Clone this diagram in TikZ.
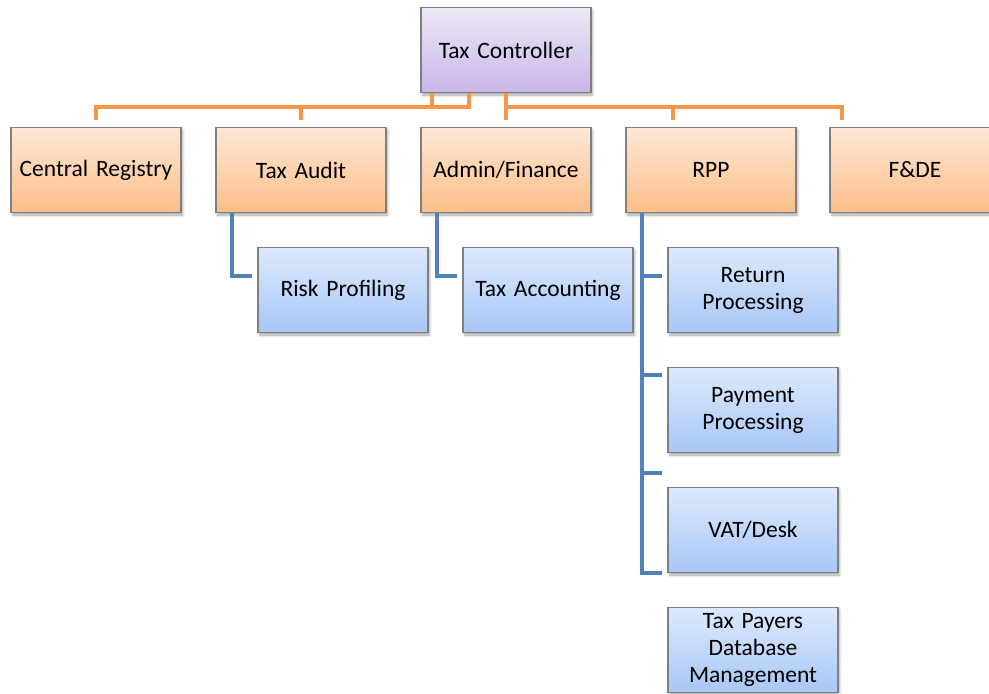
\documentclass[tikz,border=0pt]{standalone}
\usepackage{fontspec}
\setmainfont{Carlito}
\usetikzlibrary{shadows.blur}
\definecolor{orgline}{HTML}{F79646}
\definecolor{blueln}{HTML}{4F81BD}
\definecolor{boxedge}{HTML}{7F7F7F}
\definecolor{orgtop}{HTML}{FEE8D6}
\definecolor{orgbot}{HTML}{FBBE88}
\definecolor{bluetop}{HTML}{DDE9FD}
\definecolor{bluebot}{HTML}{A8C7F7}
\definecolor{purtop}{HTML}{EFE8F7}
\definecolor{purbot}{HTML}{C8B6E8}
\tikzset{
  unitbox/.style={draw=boxedge, line width=1.1pt, minimum width=170pt, minimum height=85pt,
    text width=160pt, align=center, font=\fontsize{23.5}{27}\selectfont, inner sep=0pt,
    blur shadow={shadow xshift=1.5pt, shadow yshift=-2.5pt, shadow blur radius=2.5pt, shadow opacity=35}},
  headbox/.style={unitbox, top color=purtop, bottom color=purbot},
  deptbox/.style={unitbox, top color=orgtop, bottom color=orgbot},
  subbox/.style={unitbox, top color=bluetop, bottom color=bluebot},
  deptlink/.style={draw=orgline, line width=4pt},
  sublink/.style={draw=blueln, line width=4pt}
}
\begin{document}
\begin{tikzpicture}[x=1pt, y=-1pt]
\useasboundingbox (0,0) rectangle (989,694);
\clip (0,0) rectangle (989,694);

% head of the unit
\node[headbox] (tc) at (506,50) {Tax Controller};

% departments
\node[deptbox] (cr)  at (96,170)  {Central Registry};
\node[deptbox] (ta)  at (301,170) {Tax Audit};
\node[deptbox] (af)  at (506,170) {Admin/Finance};
\node[deptbox] (rpp) at (711,170) {RPP};
\node[deptbox] (fde) at (915,170) {F\&DE};

% sections
\node[subbox] (risk) at (343,290) {Risk Profiling};
\node[subbox] (acc)  at (548,290) {Tax Accounting};
\node[subbox] (ret)  at (753,290) {Return\\Processing};
\node[subbox] (pay)  at (753,410) {Payment\\Processing};
\node[subbox] (vat)  at (753,530) {VAT/Desk};
\node[subbox] (tpdb) at (753,650) {Tax Payers\\Database\\Management};

% orange links from the head to the departments
\draw[deptlink] ([xshift=12pt]tc.south west) -- ++(0,14) -| ([yshift=7pt]cr.north);
\draw[deptlink] ([xshift=49pt]tc.south west) -- ++(0,14) -| ([yshift=7pt]ta.north);
\draw[deptlink] (tc.south) -- ([yshift=7pt]af.north);
\draw[deptlink] ([yshift=-14pt]tc.south) -| ([xshift=48pt,yshift=7pt]rpp.north west);
\draw[deptlink] ([yshift=-14pt]tc.south) -| ([xshift=13pt,yshift=7pt]fde.north west);

% blue links from the departments to their sections
\draw[sublink] ([xshift=17pt]ta.south west) |- ([xshift=-5pt,yshift=14pt]risk.west);
\draw[sublink] ([xshift=17pt]af.south west) |- ([xshift=-5pt,yshift=14pt]acc.west);
\draw[sublink] ([xshift=17pt]rpp.south west) |- ([xshift=-5pt]vat.south west);
\draw[sublink] ([xshift=-25pt,yshift=14pt]ret.west) -- ([xshift=-5pt,yshift=14pt]ret.west);
\draw[sublink] ([xshift=-25pt,yshift=-8pt]pay.north west) -- ([xshift=-5pt,yshift=-8pt]pay.north west);
\draw[sublink] ([xshift=-25pt,yshift=14pt]vat.north west) -- ([xshift=-5pt,yshift=14pt]vat.north west);
\end{tikzpicture}
\end{document}
